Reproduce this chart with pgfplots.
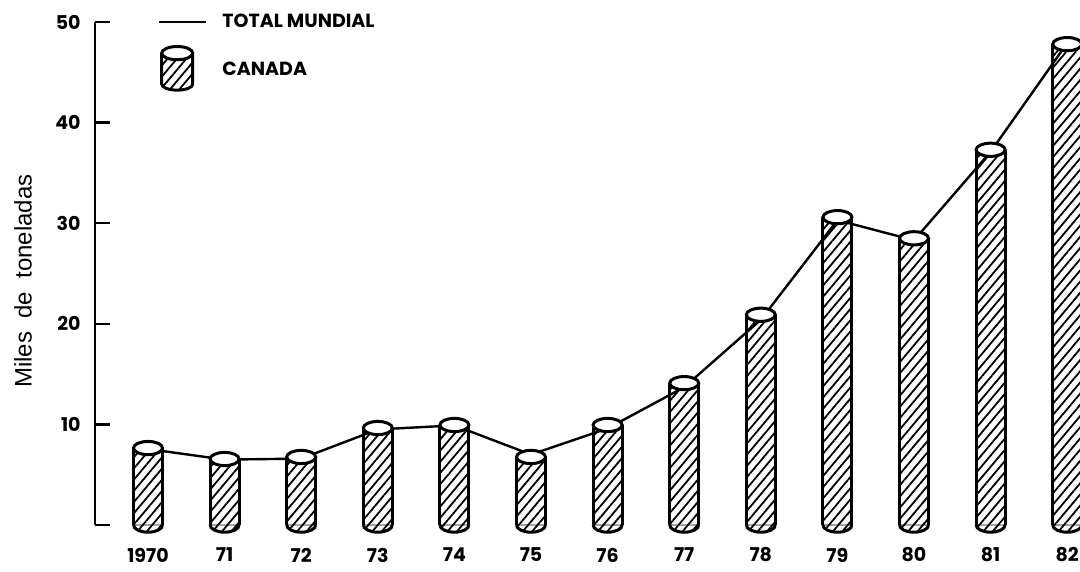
\documentclass[border=0pt]{standalone}
\usepackage{pgfplots}
\usepackage{pgfplotstable}
\pgfplotsset{compat=1.18}
\usetikzlibrary{patterns.meta}
\usepackage{fontspec}
\setmainfont{Liberation Sans}
\newfontfamily\tickfont{Poppins}

\tikzset{hatch/.style={pattern={Lines[angle=50,distance=3.6pt,line width=0.9pt]}}}

\pgfdeclareplotmark{cyltop}{%
  \draw[line width=1.5pt,fill=white] (0pt,0pt) ellipse[x radius=7.25pt,y radius=3.3pt];}
\pgfdeclareplotmark{cylbot}{%
  \path[hatch] (-7.25pt,0pt) arc[start angle=180,end angle=360,x radius=7.25pt,y radius=3.6pt] -- cycle;
  \draw[line width=1.5pt] (-7.25pt,0pt) arc[start angle=180,end angle=360,x radius=7.25pt,y radius=3.6pt];}

\pgfplotstableread{
x canada total
0  7.65 7.55
1  6.56 6.5
2  6.76 6.6
3  9.64 9.5
4  9.94 9.9
5  6.76 7.0
6  9.94 9.6
7  14.1 13.7
8  20.9 20.4
9  30.6 30.3
10 28.5 28.3
11 37.3 37.1
12 47.8 47.9
}\data

\begin{document}
\begin{tikzpicture}
\begin{axis}[
  name=ax,
  scale only axis,
  width=492.5pt, height=251.5pt,
  xmin=-0.692, xmax=12.167, ymin=0, ymax=50,
  clip=false,
  axis y line*=left, axis x line*=bottom,
  x axis line style={draw=none},
  y axis line style={-, line width=1.2pt},
  xtick={0,...,12},
  xticklabels={1970,71,72,73,74,75,76,77,78,79,80,81,82},
  xtick style={draw=none},
  xticklabel style={anchor=center, yshift=-15pt, font=\tickfont\bfseries\fontsize{9.5}{11}\selectfont},
  ytick={0,10,20,30,40,50},
  yticklabels={,10,20,30,40,50},
  ytick align=inside,
  ytick style={line width=1.2pt, black},
  major tick length=7.5pt,
  yticklabel style={anchor=east, inner sep=0pt, xshift=-7pt, font=\tickfont\bfseries\fontsize{9.5}{11}\selectfont},
  ylabel={Miles\ \ de\ \ toneladas},
  ylabel style={at={(axis description cs:-0.0731,0.485)}, anchor=center, font=\fontsize{12}{14}\selectfont},
  legend style={draw=none, fill=none, inner sep=0pt, outer sep=0pt,
    at={(axis description cs:0.064,1.0437)}, anchor=north west,
    column sep=7.5pt, row sep=0.5pt,
    nodes={inner sep=0pt},
    font=\tickfont\bfseries\fontsize{9.5}{11}\selectfont},
  legend cell align=left,
]
\addlegendimage{legend image code/.code={%
  \path[draw=none,fill=none] (0pt,-11pt) rectangle (23.5pt,11pt);
  \draw[line width=1.2pt,black] (0pt,0pt) -- (23.5pt,0pt);}}
\addlegendentry{TOTAL\ MUNDIAL}
\addlegendimage{legend image code/.code={%
  \path[draw=none,fill=none] (0pt,-11pt) rectangle (23.5pt,11pt);
  \path[draw=none,hatch] (1.25pt,8.5pt) -- (1.25pt,-7pt) arc[start angle=180,end angle=360,x radius=7.75pt,y radius=3pt] -- (16.75pt,8.5pt) -- cycle;
  \draw[line width=1.5pt,black,fill=none] (1.25pt,8.5pt) -- (1.25pt,-7pt) arc[start angle=180,end angle=360,x radius=7.75pt,y radius=3pt] -- (16.75pt,8.5pt);
  \draw[line width=1.5pt,black,fill=white] (9pt,8.5pt) ellipse[x radius=7.75pt,y radius=3.3pt];}}
\addlegendentry{CANADA}

% cylinder body fill
\addplot[forget plot, ybar, bar width=14.5pt, draw=none, hatch] table[x=x,y=canada]{\data};
% rounded bottom
\addplot[forget plot, only marks, mark=cylbot] table[x=x,y expr=0]{\data};
% sides
\addplot[forget plot, black, ycomb, no marks, line width=1.5pt, xshift=-7.25pt] table[x=x,y=canada]{\data};
\addplot[forget plot, black, ycomb, no marks, line width=1.5pt, xshift=7.25pt] table[x=x,y=canada]{\data};
% top ellipse
\addplot[forget plot, only marks, mark=cyltop] table[x=x,y=canada]{\data};
% total mundial line
\addplot[forget plot, black, line width=1.2pt, no marks] table[x=x,y=total]{\data};
\end{axis}
\pgfresetboundingbox
\path ([xshift=-47.5pt,yshift=-23.5pt]ax.south west) rectangle ([yshift=11pt]ax.north east);
\end{tikzpicture}
\end{document}
